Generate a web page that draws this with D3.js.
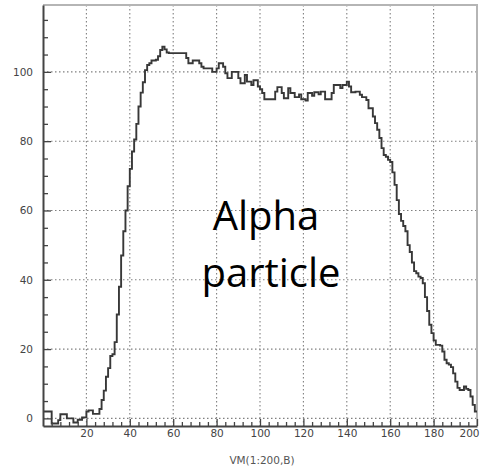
<!DOCTYPE html>
<html><head><meta charset="utf-8">
<script src="https://cdn.jsdelivr.net/npm/d3@7"></script>
<style>body{margin:0;background:#fff}svg{display:block}</style>
</head><body><svg id="c" width="480" height="470"></svg>
<script>
// ---- data ----
const binStart = 0;
const binWidth = 1;
const counts = [
  2,2,2,2,-1.5,-1.5,-1.5,-0.5,1.2,1.2,
  1.2,0,0,0,-1.2,-1.2,-0.4,-0.4,0.3,0.3,
  2,2.3,2.3,1.3,1.3,1.3,2.7,5.3,8,12,
  14.5,18,18.5,22,30,38,47,54,60,67,
  72,77,80.5,85,90,94,97,100.5,102,102.5,
  103.3,103.3,103.5,104.5,106.3,107.3,106.5,105.6,105.4,105.4,
  105.4,105.4,105.4,105.4,105.4,105.4,104,102.5,102.5,103.3,
  103.3,103.3,102.5,101.5,101,101,101,101,100,100,
  101,102.5,102.5,101.5,99.6,98.2,98.2,100,100,100,
  98.2,96.7,96.7,99.1,97.2,97.2,96.2,97.6,97.6,95.8,
  95,93.9,92.1,92.1,92.1,92.1,92.1,94.3,95.6,95.6,
  93.9,92.4,92.4,95.3,93.9,93.9,92.7,92.7,93.5,92.1,
  92.1,91.7,93.9,93.9,93.1,94.1,94.1,93.5,94.3,94.3,
  92.1,92.1,92.1,93.9,96.2,96.2,96.2,95.3,96.2,96.2,
  97.2,95.8,94.1,94.1,94.3,94.3,93.4,92.7,92.7,91.9,
  89.5,89.5,87.1,85.2,83.3,80.9,78,76,75.5,74.6,
  74,71,67.4,63,59,57,55.5,54,50,48,
  45,42.5,41.9,40.9,40.5,39,35,31,27,24.6,
  22.5,21.2,21.2,21,19.3,16.9,15.9,15.5,14.8,13,
  10.6,8.8,8.2,8.2,9.2,8.5,8.2,6.3,3.9,2
];
const xTickValues = [20,40,60,80,100,120,140,160,180,200];
const xMinorStep = 4;
const yTickValues = [0,20,40,60,80,100];
const yMinorStep = 5;
const xDomain = [0,200];
const yDomain = [-2.2,119.3];
const xTitle = "VM(1:200,B)";
const annotation = ["Alpha","particle"];

// ---- chart ----
const svg = d3.select("#c");
const x = d3.scaleLinear().domain(xDomain).range([43,477]);
const y = d3.scaleLinear().domain(yDomain).range([426,5]);

// grid
const grid = svg.append("g").attr("stroke","#808080").attr("stroke-width",1.1).attr("stroke-dasharray","1.5,2.5");
grid.selectAll("line.v").data(xTickValues.filter(v=>v<xDomain[1])).join("line")
  .attr("x1",d=>x(d)).attr("x2",d=>x(d)).attr("y1",y(yDomain[1])).attr("y2",y(yDomain[0]));
grid.selectAll("line.h").data(yTickValues).join("line")
  .attr("y1",d=>y(d)).attr("y2",d=>y(d)).attr("x1",x(xDomain[0])).attr("x2",x(xDomain[1]));

// frame top/right
svg.append("path")
  .attr("d",`M${x(xDomain[0])},${y(yDomain[1])}H${x(xDomain[1])}V${y(yDomain[0])}`)
  .attr("fill","none").attr("stroke","#b5b5b5").attr("stroke-width",2);

// histogram
const pts = counts.map((v,i)=>[binStart+i*binWidth, v]);
pts.push([binStart+counts.length*binWidth, counts[counts.length-1]]);
svg.append("path").datum(pts)
  .attr("d", d3.line().x(d=>x(d[0])).y(d=>y(d[1])).curve(d3.curveStepAfter))
  .attr("fill","none").attr("stroke","#383838").attr("stroke-width",1.9).attr("stroke-linejoin","miter");

// axes
const axisColor = "#444";
const yAxis = svg.append("g").attr("transform",`translate(${x(xDomain[0])},0)`)
  .call(d3.axisLeft(y).tickValues(yTickValues).tickSizeInner(-8).tickSizeOuter(0).tickPadding(10));
const yMinor = svg.append("g").attr("transform",`translate(${x(xDomain[0])},0)`)
  .call(d3.axisLeft(y).tickValues(d3.range(0,yDomain[1],yMinorStep).filter(v=>v%20!==0)).tickSize(-5).tickFormat(""));
const xAxis = svg.append("g").attr("transform",`translate(0,${y(yDomain[0])})`)
  .call(d3.axisBottom(x).tickValues(xTickValues).tickSizeInner(-7).tickSizeOuter(0).tickPadding(4));
const xMinor = svg.append("g").attr("transform",`translate(0,${y(yDomain[0])})`)
  .call(d3.axisBottom(x).tickValues(d3.range(xMinorStep,xDomain[1],xMinorStep).filter(v=>v%20!==0)).tickSize(-4).tickFormat(""));
[yMinor,xMinor].forEach(g=>g.select(".domain").remove());
[yAxis,xAxis,yMinor,xMinor].forEach(g=>{
  g.selectAll("line").attr("stroke",axisColor).attr("stroke-width",1.3);
  g.select(".domain").attr("stroke",axisColor).attr("stroke-width",2);
});
[yAxis,xAxis].forEach(g=>g.selectAll("text")
  .attr("font-family","DejaVu Sans, sans-serif").attr("font-size",10.5).attr("fill","#444"));
// keep the last x label inside the page
xAxis.selectAll(".tick").filter(d=>d===xDomain[1]).select("text")
  .attr("text-anchor","end").attr("x",479-x(xDomain[1]));

// x title
svg.append("text").attr("x",262).attr("y",464).attr("text-anchor","middle")
  .attr("font-family","DejaVu Sans, sans-serif").attr("font-size",10.5).attr("fill","#555").text(xTitle);

// annotation
const ann = svg.append("g").attr("font-family","Open Sans, sans-serif").attr("font-size",40).attr("fill","#000").attr("text-anchor","middle");
ann.append("text").attr("x",266).attr("y",230).text(annotation[0]);
ann.append("text").attr("x",271).attr("y",287).text(annotation[1]);
</script>
</body></html>
